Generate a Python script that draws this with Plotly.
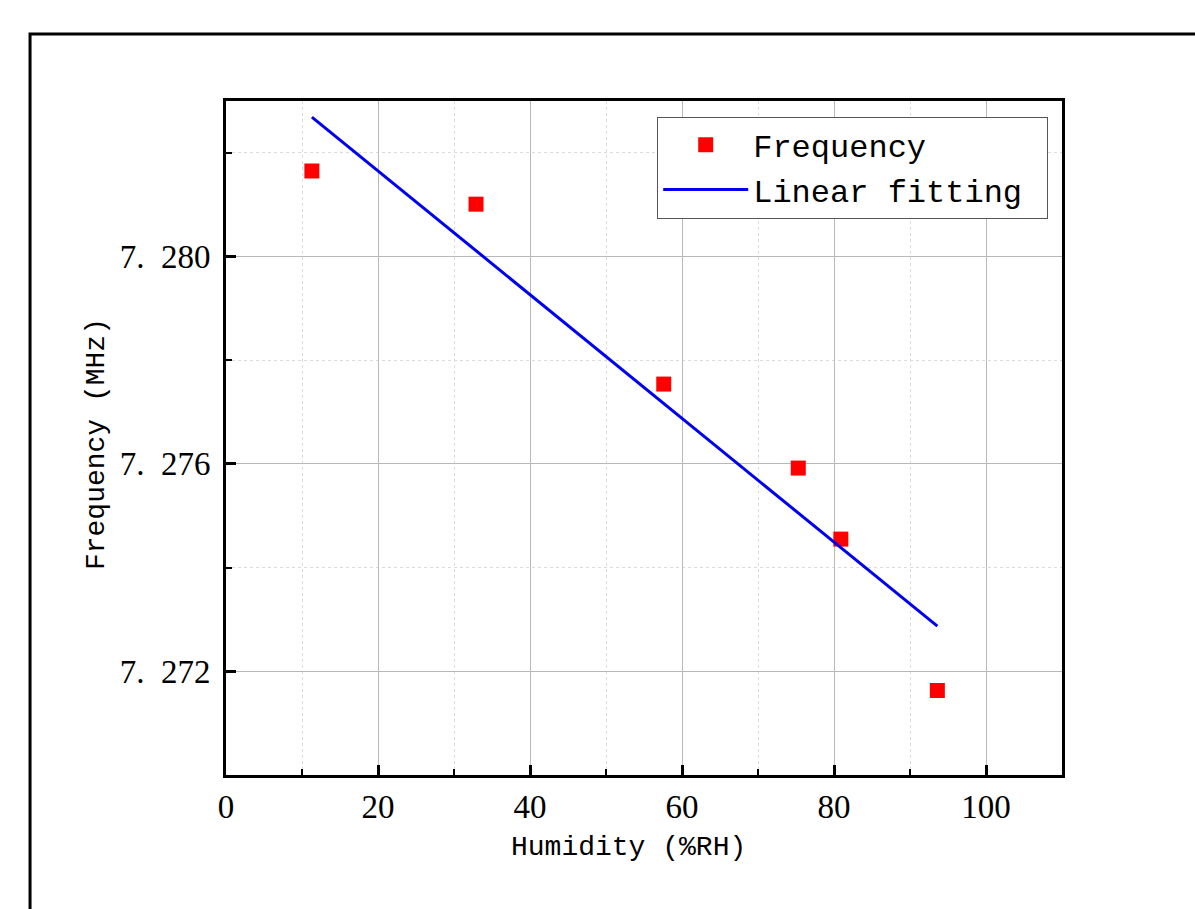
import plotly.graph_objects as go

# Data
humidity = [11.3, 32.9, 57.6, 75.3, 80.9, 93.6]
frequency = [7.28165, 7.28101, 7.27754, 7.27592, 7.27455, 7.27163]
fit_x = [11.3, 93.6]
fit_y = [7.28269, 7.27287]

x_ticks = [0, 20, 40, 60, 80, 100]
y_tickvals = [7.272, 7.276, 7.280]
y_ticktext = ["7.\u2002272", "7.\u2002276", "7.\u2002280"]
y_minor = [7.270, 7.274, 7.278, 7.282]

serif = "Liberation Serif"
mono = "Liberation Mono"

fig = go.Figure()
fig.add_trace(go.Scatter(
    x=humidity, y=frequency, mode="markers", name="Frequency",
    marker=dict(symbol="square", size=15, color="#ff0000", line=dict(width=0)),
))
fig.add_trace(go.Scatter(
    x=fit_x, y=fit_y, mode="lines", name="Linear fitting\u00a0",
    line=dict(color="#0000f0", width=3),
))

fig.update_layout(
    width=1195, height=909,
    margin=dict(l=226, r=133, t=101, b=134),
    paper_bgcolor="white", plot_bgcolor="white",
    showlegend=True,
    legend=dict(
        x=0.9835, y=0.977, xanchor="right", yanchor="top",
        bgcolor="white", bordercolor="#555555", borderwidth=1,
        font=dict(family=mono, size=32, color="black"),
        tracegroupgap=0, itemsizing="trace", itemwidth=85,
    ),
    xaxis=dict(
        range=[0, 110], tickvals=x_ticks,
        showline=True, linecolor="black", linewidth=3, mirror=True,
        ticks="inside", ticklen=10, tickwidth=3, tickcolor="black",
        showgrid=True, gridcolor="#b8b8b8", gridwidth=1,
        zeroline=False,
        tickfont=dict(family=serif, size=33, color="black"),
        minor=dict(dtick=10, tick0=0, ticks="inside", ticklen=6, tickwidth=2, tickcolor="black",
                   showgrid=True, gridcolor="#dcdcdc", griddash="dot", gridwidth=1),
    ),
    yaxis=dict(
        range=[7.270, 7.283], tickvals=y_tickvals, ticktext=y_ticktext,
        showline=True, linecolor="black", linewidth=3, mirror=True,
        ticks="inside", ticklen=10, tickwidth=3, tickcolor="black",
        showgrid=True, gridcolor="#b8b8b8", gridwidth=1,
        zeroline=False, ticklabelstandoff=6,
        tickfont=dict(family=serif, size=33, color="black"),
        minor=dict(tickvals=y_minor, ticks="inside", ticklen=6, tickwidth=2, tickcolor="black",
                   showgrid=True, gridcolor="#dcdcdc", griddash="dot", gridwidth=1),
    ),
)

# Axis titles
fig.add_annotation(text="Humidity (%RH)", xref="paper", yref="paper",
                   x=0.482, y=-0.108, xanchor="center", yanchor="middle", showarrow=False,
                   font=dict(family=mono, size=28, color="black"))
fig.add_annotation(text="Frequency (MHz)", xref="paper", yref="paper",
                   x=-0.1555, y=0.491, xanchor="center", yanchor="middle", showarrow=False,
                   textangle=-90, font=dict(family=mono, size=28, color="black"))

# Outer frame (only left and top edges visible in the reference)
fig.add_shape(type="path", xref="paper", yref="paper",
              path="M -0.2344,-1.0 L -0.2344,1.0994 L 2.0,1.0994",
              line=dict(color="black", width=3), layer="below")

fig.write_html(
    "out.html",
    config={"displayModeBar": False},
    post_script="document.body.style.margin='0';document.body.style.overflow='hidden';",
)
